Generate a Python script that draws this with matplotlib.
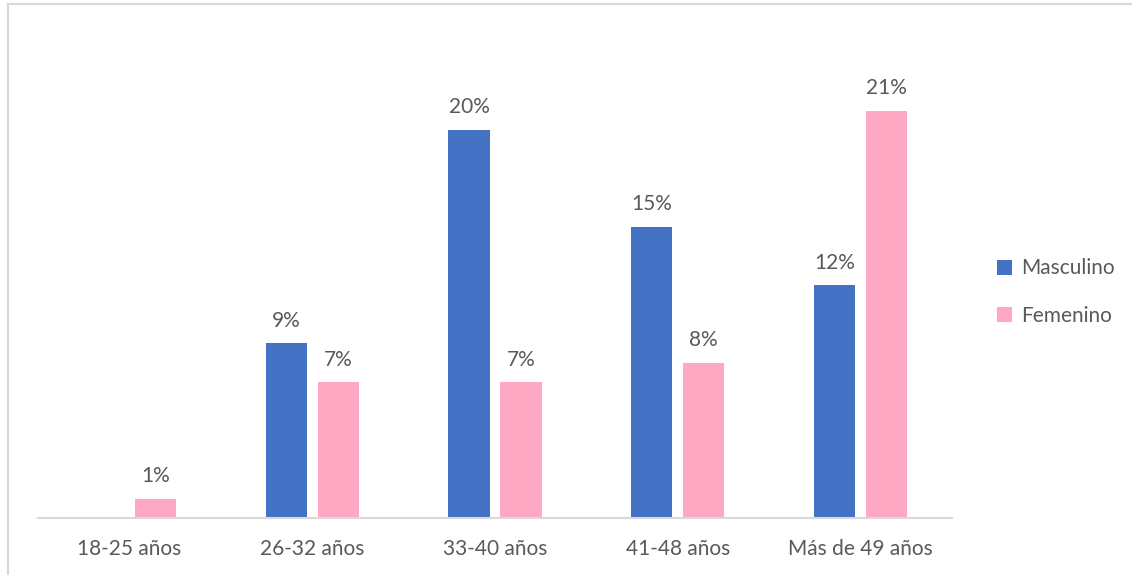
import matplotlib.pyplot as plt
import numpy as np

categories = ["18-25 años", "26-32 años", "33-40 años", "41-48 años", "Más de 49 años"]
masculino = [0, 9, 20, 15, 12]
femenino = [1, 7, 7, 8, 21]
series_names = ["Masculino", "Femenino"]

blue = "#4472C4"
pink = "#FFA8C4"
gray = "#595959"

plt.rcParams['font.family'] = ['Lato', 'DejaVu Sans']

fig = plt.figure(figsize=(11.32, 5.75), dpi=100)

# light frame (left and top edges visible in the reference)
fig.add_artist(plt.Line2D([8/1132, 8/1132], [0, 1 - 4/575], color="#D9D9D9", lw=1.5))
fig.add_artist(plt.Line2D([8/1132, 1], [1 - 4/575, 1 - 4/575], color="#D9D9D9", lw=1.5))

ax = fig.add_axes([38/1132, 57/575, (952-38)/1132, (518-30)/575])
x = np.arange(len(categories))
w = 0.225
off = 0.142

b1 = ax.bar(x - off, masculino, w, color=blue, label=series_names[0])
b2 = ax.bar(x + off, femenino, w, color=pink, label=series_names[1])

for bars, vals in ((b1, masculino), (b2, femenino)):
    for rect, v in zip(bars, vals):
        if v == 0:
            continue
        ax.text(rect.get_x() + rect.get_width()/2, v + 0.65, f"{v}%",
                ha="center", va="bottom", fontsize=15, color=gray)

ax.set_xlim(-0.5, len(categories) - 0.5)
ax.set_ylim(0, (518-30)/19.4)
ax.set_xticks(x)
ax.set_xticklabels(categories, fontsize=15, color=gray)
ax.tick_params(axis="x", length=0, pad=15)
ax.set_yticks([])
for s in ("top", "right", "left"):
    ax.spines[s].set_visible(False)
ax.spines["bottom"].set_color("#D9D9D9")
ax.spines["bottom"].set_linewidth(1.5)

leg = fig.legend(handles=[b1, b2], loc="center left", bbox_to_anchor=(978/1132, 1 - 292/575),
                 frameon=False, fontsize=15, handlelength=0.75, handleheight=0.75,
                 handletextpad=0.4, labelspacing=1.3)
for t in leg.get_texts():
    t.set_color(gray)

fig.savefig("out.png", dpi=100)
